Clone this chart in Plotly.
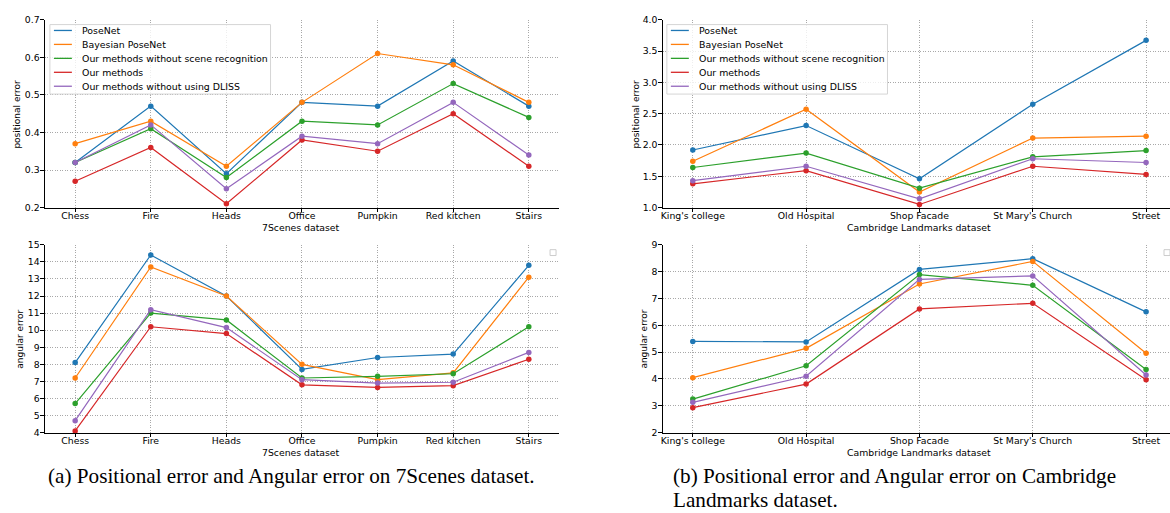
import plotly.graph_objects as go

W, H = 1170, 513

# ---------------- data ----------------
series_names = ["PoseNet", "Bayesian PoseNet", "Our methods without scene recognition",
                "Our methods", "Our methods without using DLISS"]
colors = ["#1f77b4", "#ff7f0e", "#2ca02c", "#d62728", "#9467bd"]

scenes7 = ["Chess", "Fire", "Heads", "Office", "Pumpkin", "Red kitchen", "Stairs"]
pos7_posenet = [0.32, 0.47, 0.29, 0.48, 0.47, 0.59, 0.47]
pos7_bayes = [0.37, 0.43, 0.31, 0.48, 0.61, 0.58, 0.48]
pos7_nosr = [0.32, 0.41, 0.28, 0.43, 0.42, 0.53, 0.44]
pos7_ours = [0.27, 0.36, 0.21, 0.38, 0.35, 0.45, 0.31]
pos7_nodliss = [0.32, 0.42, 0.25, 0.39, 0.37, 0.48, 0.34]

ang7_posenet = [8.1, 14.4, 12.0, 7.7, 8.4, 8.6, 13.8]
ang7_bayes = [7.2, 13.7, 12.0, 8.0, 7.1, 7.5, 13.1]
ang7_nosr = [5.7, 11.0, 10.6, 7.2, 7.3, 7.45, 10.2]
ang7_ours = [4.1, 10.2, 9.8, 6.8, 6.65, 6.75, 8.3]
ang7_nodliss = [4.7, 11.2, 10.15, 7.1, 6.9, 6.95, 8.7]

cambridge = ["King's college", "Old Hospital", "Shop Facade", "St Mary's Church", "Street"]
posC_posenet = [1.92, 2.31, 1.46, 2.65, 3.67]
posC_bayes = [1.74, 2.57, 1.25, 2.11, 2.14]
posC_nosr = [1.64, 1.87, 1.31, 1.81, 1.91]
posC_ours = [1.38, 1.59, 1.05, 1.66, 1.53]
posC_nodliss = [1.43, 1.66, 1.14, 1.78, 1.72]

angC_posenet = [5.4, 5.38, 8.08, 8.48, 6.5]
angC_bayes = [4.05, 5.14, 7.54, 8.38, 4.96]
angC_nosr = [3.25, 4.49, 7.89, 7.49, 4.35]
angC_ours = [2.93, 3.81, 6.61, 6.82, 3.97]
angC_nodliss = [3.13, 4.1, 7.71, 7.84, 4.15]

panels = [
    dict(cats=scenes7, ys=[pos7_posenet, pos7_bayes, pos7_nosr, pos7_ours, pos7_nodliss],
         yrange=[0.2, 0.7], dtick=0.1, fmt=".1f", ytitle="positional error", xtitle="7Scenes dataset"),
    dict(cats=scenes7, ys=[ang7_posenet, ang7_bayes, ang7_nosr, ang7_ours, ang7_nodliss],
         yrange=[4, 15], dtick=1, fmt="d", ytitle="angular error", xtitle="7Scenes dataset"),
    dict(cats=cambridge, ys=[posC_posenet, posC_bayes, posC_nosr, posC_ours, posC_nodliss],
         yrange=[1.0, 4.0], dtick=0.5, fmt=".1f", ytitle="positional error", xtitle="Cambridge Landmarks dataset"),
    dict(cats=cambridge, ys=[angC_posenet, angC_bayes, angC_nosr, angC_ours, angC_nodliss],
         yrange=[2, 9], dtick=1, fmt="d", ytitle="angular error", xtitle="Cambridge Landmarks dataset"),
]

# ---------------- layout geometry (pixels) ----------------
def px(x):
    return x / W


def py(y):
    return 1 - y / H

geom = [
    dict(l=43, r=558, t=14, b=206, xr=[-0.4, 6.4], ytx=15, xtx=300),
    dict(l=43, r=558, t=244, b=436, xr=[-0.4, 6.4], ytx=18, xtx=300),
    dict(l=662, r=1170, t=14, b=206, xr=[-0.264, 4.211], ytx=635, xtx=919),
    dict(l=662, r=1170, t=244, b=436, xr=[-0.264, 4.211], ytx=643, xtx=919),
]

fig = go.Figure()
layout = dict(width=W, height=H, margin=dict(l=0, r=0, t=0, b=0),
              paper_bgcolor="white", plot_bgcolor="white", showlegend=False,
              font=dict(family="DejaVu Sans", color="black"))
annotations = []
shapes = []

axis_common = dict(showline=True, linecolor="black", linewidth=1, mirror=False,
                   showgrid=True, gridcolor="#a8a8a8", griddash="1px,1.5px", gridwidth=0.8,
                   ticks="outside", ticklen=3.5, tickwidth=1, tickcolor="black",
                   tickfont=dict(size=9.3, family="DejaVu Sans", color="black"),
                   zeroline=False, fixedrange=True)

for i, (p, g) in enumerate(zip(panels, geom)):
    n = i + 1
    xa = "x" if n == 1 else f"x{n}"
    ya = "y" if n == 1 else f"y{n}"
    for name, col, yv in zip(series_names, colors, p["ys"]):
        fig.add_trace(go.Scatter(x=p["cats"], y=yv, mode="lines+markers", name=name,
                                 line=dict(color=col, width=1.2),
                                 marker=dict(color=col, size=5.5),
                                 xaxis=xa, yaxis=ya, showlegend=False, cliponaxis=False))
    xkey = "xaxis" if n == 1 else f"xaxis{n}"
    ykey = "yaxis" if n == 1 else f"yaxis{n}"
    layout[xkey] = dict(axis_common, domain=[px(g["l"]), px(g["r"])], range=g["xr"],
                        anchor=ya, type="category", ticklabelstandoff=-4)
    layout[ykey] = dict(axis_common, domain=[py(g["b"]), py(g["t"])], range=p["yrange"],
                        anchor=xa, dtick=p["dtick"], tick0=p["yrange"][0], tickformat=p["fmt"],
                        ticklabelstandoff=-1)
    annotations.append(dict(text=p["ytitle"], x=px(g["ytx"]), y=py((g["t"] + g["b"]) / 2),
                            xref="paper", yref="paper", showarrow=False, textangle=-90,
                            xanchor="center", yanchor="middle",
                            font=dict(size=9, family="DejaVu Sans", color="black")))
    annotations.append(dict(text=p["xtitle"], x=px(g["xtx"]), y=py(g["b"] + 20),
                            xref="paper", yref="paper", showarrow=False,
                            xanchor="center", yanchor="middle",
                            font=dict(size=9.3, family="DejaVu Sans", color="black")))

# legends (top panels)
for lx0 in (48, 666):
    shapes.append(dict(type="rect", xref="paper", yref="paper",
                       x0=px(lx0), x1=px(lx0 + 221), y0=py(90), y1=py(19),
                       line=dict(color="#d5d5d5", width=1), fillcolor="rgba(255,255,255,0.8)",
                       layer="above"))
    for k, (name, col) in enumerate(zip(series_names, colors)):
        yy = 25 + k * 14.25
        shapes.append(dict(type="line", xref="paper", yref="paper",
                           x0=px(lx0 + 4), x1=px(lx0 + 22), y0=py(yy), y1=py(yy),
                           line=dict(color=col, width=1.3), layer="above"))
        annotations.append(dict(text=name, x=px(lx0 + 30), y=py(yy), xref="paper", yref="paper",
                                showarrow=False, xanchor="left", yanchor="middle",
                                font=dict(size=9.4, family="DejaVu Sans", color="black")))

# empty legend boxes in bottom panels
for bx in (549, 1164):
    shapes.append(dict(type="rect", xref="paper", yref="paper",
                       x0=px(bx), x1=px(bx + 6), y0=py(255), y1=py(249),
                       line=dict(color="#cccccc", width=1), fillcolor="white", layer="above"))

# captions
cap_font = dict(size=21.2, family="Liberation Serif", color="black")
annotations.append(dict(text="(a) Positional error and Angular error on 7Scenes dataset.",
                        x=px(290), y=py(480), xref="paper", yref="paper", showarrow=False,
                        xanchor="center", yanchor="middle", font=cap_font))
annotations.append(dict(text="(b) Positional error and Angular error on Cambridge",
                        x=px(670), y=py(480), xref="paper", yref="paper", showarrow=False,
                        xanchor="left", yanchor="middle", font=cap_font))
annotations.append(dict(text="Landmarks dataset.",
                        x=px(670), y=py(505), xref="paper", yref="paper", showarrow=False,
                        xanchor="left", yanchor="middle", font=cap_font))

layout["annotations"] = annotations
layout["shapes"] = shapes
fig.update_layout(**layout)
fig.write_html("out.html")
